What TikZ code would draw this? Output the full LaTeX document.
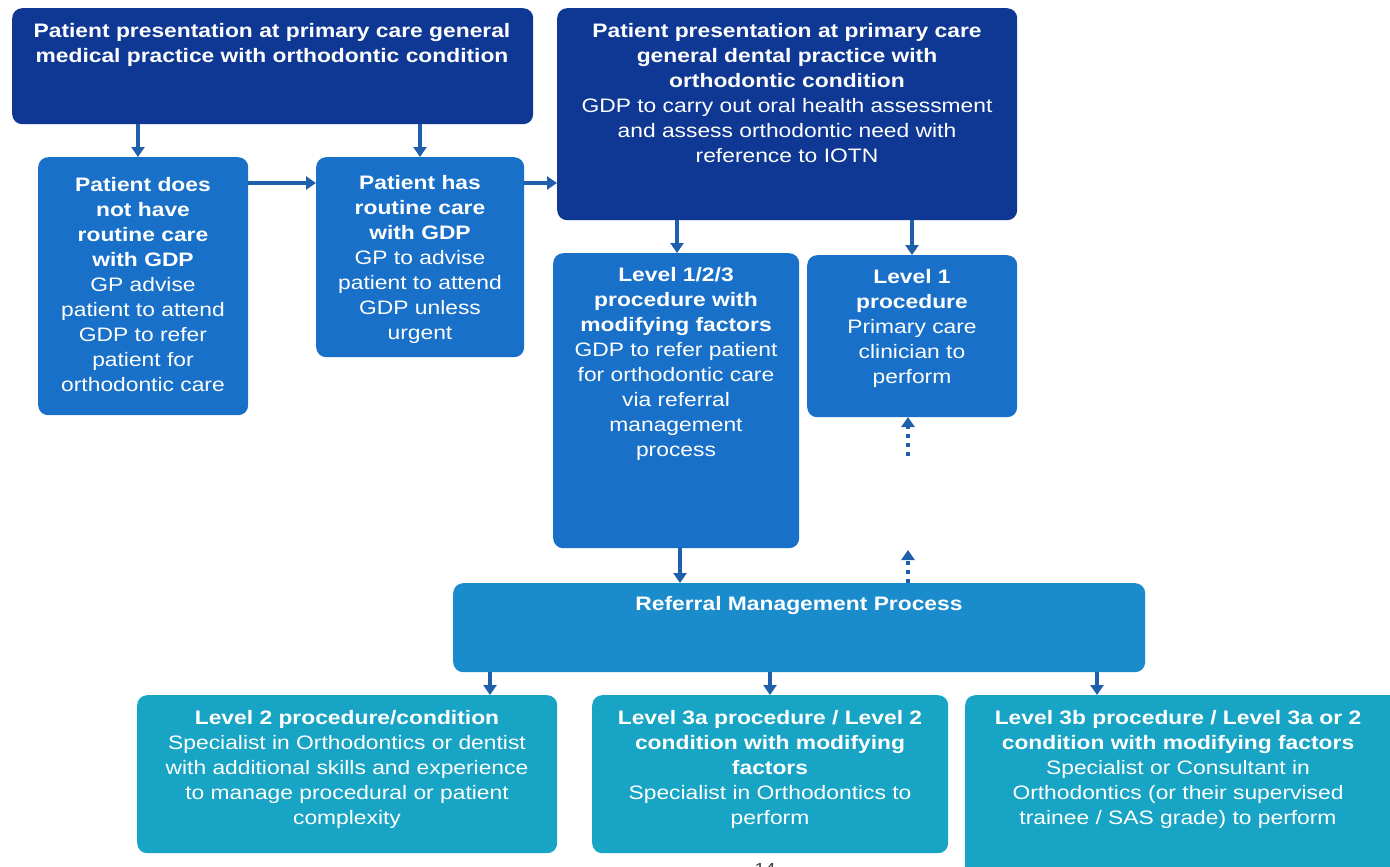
\documentclass[tikz,border=0pt]{standalone}
\usepackage{fontspec}
\setmainfont{Liberation Sans}[FakeStretch=1.17]
\usetikzlibrary{arrows.meta}
\definecolor{navy}{RGB}{14,56,148}
\definecolor{midblue}{RGB}{24,112,200}
\definecolor{refblue}{RGB}{26,140,204}
\definecolor{teal}{RGB}{24,164,196}
\definecolor{arrowcol}{RGB}{30,96,172}
\definecolor{pagenum}{RGB}{60,60,60}
\tikzset{
  boxshape/.style={draw=none, rounded corners=10pt, inner sep=0pt, anchor=north west},
  boxtext/.style={anchor=north, inner sep=0pt, text=white, align=center,
    font=\fontsize{19.5}{25}\selectfont},
  flow/.style={draw=arrowcol, line width=4pt, -{Triangle[width=13pt,length=10pt]}},
  dotflow/.style={draw=arrowcol, line width=4pt, dash pattern=on 4pt off 5pt,
    -{Triangle[width=13pt,length=10pt]}},
}
\begin{document}
\begin{tikzpicture}[x=1pt,y=-1pt]
\useasboundingbox (0,0) rectangle (1390,867);
% boxes
\node[boxshape, fill=navy, minimum width=521pt, minimum height=116pt] (gmp) at (12,8) {};
\node[boxshape, fill=navy, minimum width=460pt, minimum height=212pt] (gdp) at (557,8) {};
\node[boxshape, fill=midblue, minimum width=210pt, minimum height=258pt] (nocare) at (38,157) {};
\node[boxshape, fill=midblue, minimum width=208pt, minimum height=200pt] (care) at (316,157) {};
\node[boxshape, fill=midblue, minimum width=246pt, minimum height=295pt] (lvl123) at (553,253) {};
\node[boxshape, fill=midblue, minimum width=210pt, minimum height=162pt] (lvl1) at (807,255) {};
\node[boxshape, fill=refblue, minimum width=692pt, minimum height=89pt] (rmp) at (453,583) {};
\node[boxshape, fill=teal, minimum width=420pt, minimum height=158pt] (b1) at (137,695) {};
\node[boxshape, fill=teal, minimum width=356pt, minimum height=158pt] (b2) at (592,695) {};
\node[boxshape, fill=teal, minimum width=440pt, minimum height=190pt] (b3) at (965,695) {};
% texts
\node[boxtext] (tgmp) at (272,23) {\textbf{Patient presentation at primary care general}\\\textbf{medical practice with orthodontic condition}};
\node[boxtext] (tgdp) at (787,23) {\textbf{Patient presentation at primary care}\\\textbf{general dental practice with}\\\textbf{orthodontic condition}\\GDP to carry out oral health assessment\\and assess orthodontic need with\\reference to IOTN};
\node[boxtext] (tnocare) at (143,177) {\textbf{Patient does}\\\textbf{not have}\\\textbf{routine care}\\\textbf{with GDP}\\GP advise\\patient to attend\\GDP to refer\\patient for\\orthodontic care};
\node[boxtext] (tcare) at (420,175) {\textbf{Patient has}\\\textbf{routine care}\\\textbf{with GDP}\\GP to advise\\patient to attend\\GDP unless\\urgent};
\node[boxtext] (tlvl123) at (676,267) {\textbf{Level 1/2/3}\\\textbf{procedure with}\\\textbf{modifying factors}\\GDP to refer patient\\for orthodontic care\\via referral\\management\\process};
\node[boxtext] (tlvl1) at (912,269) {\textbf{Level 1}\\\textbf{procedure}\\Primary care\\clinician to\\perform};
\node[boxtext] (trmp) at (799,596) {\textbf{Referral Management Process}};
\node[boxtext] (tb1) at (347,710) {\textbf{Level 2 procedure/condition}\\Specialist in Orthodontics or dentist\\with additional skills and experience\\to manage procedural or patient\\complexity};
\node[boxtext] (tb2) at (770,710) {\textbf{Level 3a procedure / Level 2}\\\textbf{condition with modifying}\\\textbf{factors}\\Specialist in Orthodontics to\\perform};
\node[boxtext] (tb3) at (1178,710) {\textbf{Level 3b procedure / Level 3a or 2}\\\textbf{condition with modifying factors}\\Specialist or Consultant in\\Orthodontics (or their supervised\\trainee / SAS grade) to perform};
\node[text=pagenum, font=\fontsize{16}{18}\selectfont, inner sep=0pt] (page) at (765,869) {14};
% coordinates
\coordinate (g1) at (138,124);
\coordinate (g2) at (420,124);
\coordinate (hrow) at (0,183);
\coordinate (d1) at (677,220);
\coordinate (d2) at (912,220);
\coordinate (r0) at (680,548);
\coordinate (rb1) at (490,672);
\coordinate (rb2) at (770,672);
\coordinate (rb3) at (1097,672);
\coordinate (up1s) at (908,583);
\coordinate (up1e) at (908,550);
\coordinate (up2s) at (908,456);
\coordinate (up2e) at (908,417);
% arrows
\draw[flow] (g1) -- (g1 |- nocare.north);
\draw[flow] (g2) -- (g2 |- care.north);
\draw[flow] (nocare.east |- hrow) -- (care.west |- hrow);
\draw[flow] (care.east |- hrow) -- (gdp.west |- hrow);
\draw[flow] (d1) -- (d1 |- lvl123.north);
\draw[flow] (d2) -- (d2 |- lvl1.north);
\draw[flow] (r0) -- (r0 |- rmp.north);
\draw[flow] (rb1) -- (rb1 |- b1.north);
\draw[flow] (rb2) -- (rb2 |- b2.north);
\draw[flow] (rb3) -- (rb3 |- b3.north);
\draw[dotflow] (up1s) -- (up1e);
\draw[dotflow] (up2s) -- (up2e);
\end{tikzpicture}
\end{document}
